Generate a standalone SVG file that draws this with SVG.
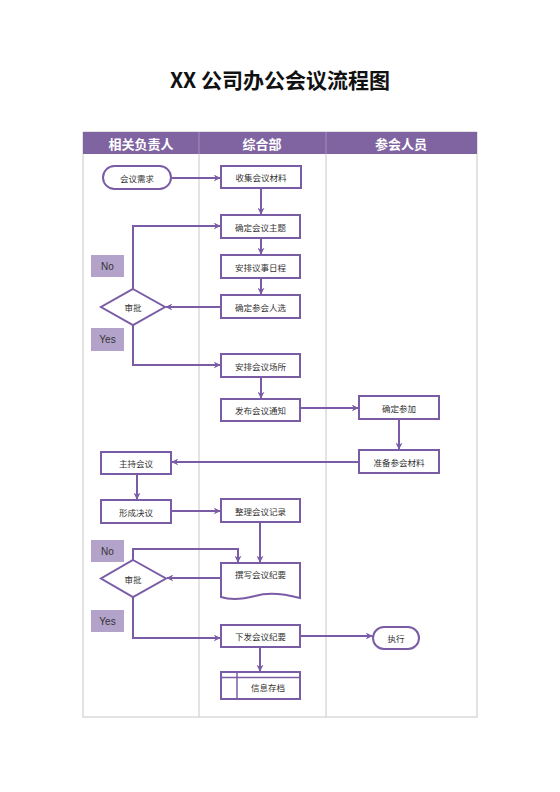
<svg xmlns="http://www.w3.org/2000/svg" width="560" height="792" viewBox="0 0 560 792">
<defs>
<marker id="arr" viewBox="0 0 10 10" refX="9" refY="5" markerWidth="7" markerHeight="7" markerUnits="userSpaceOnUse" orient="auto">
<path d="M0,0 L10,5 L0,10 L3,5 z" fill="#7a5ca6"/>
</marker>
<style>
.box{fill:#fff;stroke:#7a5ca6;stroke-width:2}
.lbl{fill:#b3a2ca}
.t{font-family:"Noto Sans CJK SC","Liberation Sans",sans-serif;font-size:8.5px;fill:#333;text-anchor:middle;dominant-baseline:central}
.lt{font-family:"Liberation Sans","Noto Sans CJK SC",sans-serif;font-size:10px;fill:#333;text-anchor:middle;dominant-baseline:central}
.h{font-family:"Noto Sans CJK SC","Liberation Sans",sans-serif;font-size:13px;font-weight:bold;fill:#fff;text-anchor:middle;dominant-baseline:central}
.c{fill:none;stroke:#7a5ca6;stroke-width:2}
.div{stroke:#c8c8c8;stroke-width:1;fill:none}
</style>
</defs>
<rect width="560" height="792" fill="#fff"/>
<text x="280" y="78.5" font-family="Noto Sans CJK SC,Liberation Sans,sans-serif" font-size="21" font-weight="bold" fill="#111" text-anchor="middle" dominant-baseline="central">XX 公司办公会议流程图</text>
<g id="lanes">
<rect x="83" y="132" width="394" height="585" class="div"/>
<line x1="199" y1="132" x2="199" y2="717" class="div"/>
<line x1="326" y1="132" x2="326" y2="717" class="div"/>
<rect x="83" y="132" width="394" height="22" fill="#8064a2"/>
<line x1="199" y1="132" x2="199" y2="154" stroke="#a08cc0" stroke-width="1"/>
<line x1="326" y1="132" x2="326" y2="154" stroke="#a08cc0" stroke-width="1"/>
<text class="h" x="141" y="143">相关负责人</text>
<text class="h" x="262" y="143">综合部</text>
<text class="h" x="401" y="143">参会人员</text>
</g>
<g id="connectors">
<line class="c" x1="171" y1="178" x2="220" y2="178" marker-end="url(#arr)"/>
<line class="c" x1="261" y1="188" x2="261" y2="214" marker-end="url(#arr)"/>
<line class="c" x1="261" y1="238" x2="261" y2="254" marker-end="url(#arr)"/>
<line class="c" x1="261" y1="278" x2="261" y2="294" marker-end="url(#arr)"/>
<line class="c" x1="221" y1="307" x2="166" y2="307" marker-end="url(#arr)"/>
<polyline class="c" points="133,289 133,226 220,226" marker-end="url(#arr)"/>
<polyline class="c" points="133,325 133,365 220,365" marker-end="url(#arr)"/>
<line class="c" x1="261" y1="377" x2="261" y2="398" marker-end="url(#arr)"/>
<line class="c" x1="300" y1="408" x2="358" y2="408" marker-end="url(#arr)"/>
<line class="c" x1="399" y1="419" x2="399" y2="449" marker-end="url(#arr)"/>
<line class="c" x1="359" y1="462" x2="172" y2="462" marker-end="url(#arr)"/>
<line class="c" x1="137" y1="474" x2="137" y2="499" marker-end="url(#arr)"/>
<line class="c" x1="171" y1="511" x2="220" y2="511" marker-end="url(#arr)"/>
<line class="c" x1="260" y1="522" x2="260" y2="562" marker-end="url(#arr)"/>
<line class="c" x1="221" y1="578" x2="167" y2="578" marker-end="url(#arr)"/>
<polyline class="c" points="133,560 133,549 238,549 238,562" marker-end="url(#arr)"/>
<polyline class="c" points="133,597 133,638 220,638" marker-end="url(#arr)"/>
<line class="c" x1="300" y1="636" x2="372" y2="636" marker-end="url(#arr)"/>
<line class="c" x1="260" y1="647" x2="260" y2="671" marker-end="url(#arr)"/>
</g>
<g id="n-meeting-need"><rect class="box" x="103" y="166" width="68" height="23" rx="11.5"/><text class="t" x="137" y="177.5">会议需求</text></g>
<g id="n-collect"><rect class="box" x="221" y="166" width="80" height="22"/><text class="t" x="261" y="177">收集会议材料</text></g>
<g id="n-topic"><rect class="box" x="221" y="215" width="79" height="23"/><text class="t" x="260.5" y="226.5">确定会议主题</text></g>
<g id="n-agenda"><rect class="box" x="221" y="255" width="79" height="23"/><text class="t" x="260.5" y="266.5">安排议事日程</text></g>
<g id="n-attendees"><rect class="box" x="221" y="295" width="79" height="23"/><text class="t" x="260.5" y="306.5">确定参会人选</text></g>
<g id="n-approve1"><polygon class="box" points="133,289 165,307 133,325 101,307"/><text class="t" x="133" y="307">审批</text></g>
<g id="l-no1"><rect class="lbl" x="91" y="255" width="33" height="22"/><text class="lt" x="107.5" y="266">No</text></g>
<g id="l-yes1"><rect class="lbl" x="91" y="328" width="33" height="23"/><text class="lt" x="107.5" y="339.5">Yes</text></g>
<g id="n-venue"><rect class="box" x="221" y="354" width="79" height="23"/><text class="t" x="260.5" y="365.5">安排会议场所</text></g>
<g id="n-notice"><rect class="box" x="221" y="399" width="79" height="22"/><text class="t" x="260.5" y="410">发布会议通知</text></g>
<g id="n-confirm"><rect class="box" x="359" y="396" width="80" height="23"/><text class="t" x="399" y="407.5">确定参加</text></g>
<g id="n-prepare"><rect class="box" x="359" y="450" width="80" height="23"/><text class="t" x="399" y="461.5">准备参会材料</text></g>
<g id="n-host"><rect class="box" x="101" y="452" width="70" height="22"/><text class="t" x="136" y="463">主持会议</text></g>
<g id="n-resolve"><rect class="box" x="101" y="500" width="70" height="23"/><text class="t" x="136" y="511.5">形成决议</text></g>
<g id="n-organize"><rect class="box" x="221" y="499" width="79" height="23"/><text class="t" x="260.5" y="510.5">整理会议记录</text></g>
<g id="n-minutes"><path class="box" d="M221,563 H300 V598 C285,594 268,592 255,596 C240,600 230,600 221,597 Z"/><text class="t" x="260.5" y="574">撰写会议纪要</text></g>
<g id="n-approve2"><polygon class="box" points="133,560 166,578.5 133,597 101,578.5"/><text class="t" x="133" y="578.5">审批</text></g>
<g id="l-no2"><rect class="lbl" x="91" y="540" width="33" height="22"/><text class="lt" x="107.5" y="551">No</text></g>
<g id="l-yes2"><rect class="lbl" x="91" y="610" width="33" height="22"/><text class="lt" x="107.5" y="621">Yes</text></g>
<g id="n-issue"><rect class="box" x="221" y="625" width="79" height="22"/><text class="t" x="260.5" y="636">下发会议纪要</text></g>
<g id="n-execute"><rect class="box" x="373" y="627" width="46" height="22" rx="11"/><text class="t" x="396" y="638">执行</text></g>
<g id="n-archive"><rect class="box" x="221" y="672" width="79" height="27"/><line x1="221" y1="677.5" x2="300" y2="677.5" stroke="#7a5ca6" stroke-width="1.5"/><line x1="237" y1="672" x2="237" y2="699" stroke="#7a5ca6" stroke-width="1.5"/><text class="t" x="268" y="687">信息存档</text></g>
</svg>
